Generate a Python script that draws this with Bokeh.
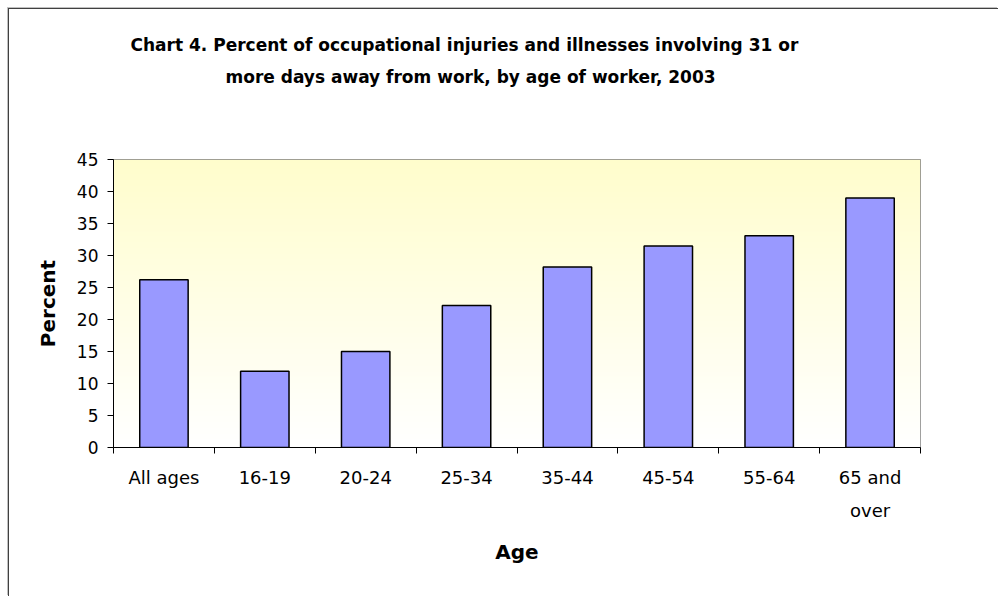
import numpy as np
from bokeh.plotting import figure
from bokeh.models import Range1d, FixedTicker, Title
from bokeh.embed import file_html
from bokeh.resources import INLINE

# ---- data ----
categories = ["All ages", "16-19", "20-24", "25-34", "35-44", "45-54", "55-64", "65 and\nover"]
percent = [26.2, 11.9, 15.0, 22.2, 28.2, 31.5, 33.1, 39.0]
y_ticks = [0, 5, 10, 15, 20, 25, 30, 35, 40, 45]
title_lines = [
    "Chart 4. Percent of occupational injuries and illnesses involving 31 or",
    "more days away from work, by age of worker, 2003",
]
x_label = "Age"
y_label = "Percent"

n = len(categories)
xs = list(range(n))

p = figure(
    width=990, height=588, output_backend="svg", toolbar_location=None,
    x_range=Range1d(-0.5, n - 0.5), y_range=Range1d(y_ticks[0], y_ticks[-1]),
    min_border_left=104, min_border_right=79, min_border_top=150, min_border_bottom=150,
)
p.styles = {
    "margin-left": "8px",
    "margin-top": "8px",
    "border-left": "1px solid #404040",
    "border-top": "1px solid #404040",
    "box-shadow": "-1px -1px 0 #c0c0c0",
}
p.background_fill_color = "white"
p.border_fill_color = "white"
p.outline_line_color = "#808080"
p.outline_line_width = 1
p.xgrid.visible = False
p.ygrid.visible = False

# gradient background of the plot area (light yellow at top -> white at bottom)
rows = 200
t = np.linspace(0.0, 1.0, rows)
img = np.empty((rows, 1), dtype=np.uint32)
view = img.view(dtype=np.uint8).reshape((rows, 1, 4))
view[:, 0, 0] = 255
view[:, 0, 1] = np.round(255 - 2 * t).astype(np.uint8)
view[:, 0, 2] = np.round(255 - 51 * t).astype(np.uint8)
view[:, 0, 3] = 255
p.image_rgba(image=[img], x=-0.5, y=y_ticks[0], dw=n, dh=y_ticks[-1] - y_ticks[0])

p.vbar(x=xs, top=percent, width=0.48, fill_color="#9999FF",
       line_color="black", line_width=1.5)

font = "DejaVu Sans"

def title_style(t):
    t.align = "left"
    t.text_font = font
    t.text_font_style = "bold"
    t.text_font_size = "17px"
    t.text_color = "black"

# spacer nearest the plot area, then the second title line, then the first (outermost)
p.add_layout(Title(text=" ", text_font_size="50px"), "above")
t2 = Title(text=title_lines[1], offset=112)
title_style(t2)
p.add_layout(t2, "above")
p.title.text = title_lines[0]
p.title.offset = 17
title_style(p.title)

# y axis
ya = p.yaxis[0]
ya.ticker = FixedTicker(ticks=y_ticks)
ya.axis_line_color = "black"
ya.major_tick_line_color = "black"
ya.major_tick_in = 0
ya.major_tick_out = 6
ya.minor_tick_line_color = None
ya.major_label_text_font = font
ya.major_label_text_font_size = "17px"
ya.major_label_text_color = "black"
ya.major_label_standoff = 9
ya.axis_label = y_label
ya.axis_label_text_font = font
ya.axis_label_text_font_style = "bold"
ya.axis_label_text_font_size = "20px"
ya.axis_label_text_color = "black"
ya.axis_label_standoff = 14

# x axis: labels at centres, tick marks at category boundaries
xa = p.xaxis[0]
xa.ticker = FixedTicker(ticks=xs, minor_ticks=[i - 0.5 for i in range(n + 1)])
xa.major_label_overrides = {i: c for i, c in enumerate(categories)}
xa.axis_line_color = "black"
xa.major_tick_line_color = None
xa.minor_tick_line_color = "black"
xa.minor_tick_in = 0
xa.minor_tick_out = 6
xa.major_label_text_font = font
xa.major_label_text_font_size = "18px"
xa.major_label_text_color = "black"
xa.major_label_text_line_height = 1.6
xa.major_label_standoff = 13
xa.axis_label = x_label
xa.axis_label_text_font = font
xa.axis_label_text_font_style = "bold"
xa.axis_label_text_font_size = "20px"
xa.axis_label_text_color = "black"
xa.axis_label_standoff = 16

open("out.html", "w").write(file_html(p, INLINE))
